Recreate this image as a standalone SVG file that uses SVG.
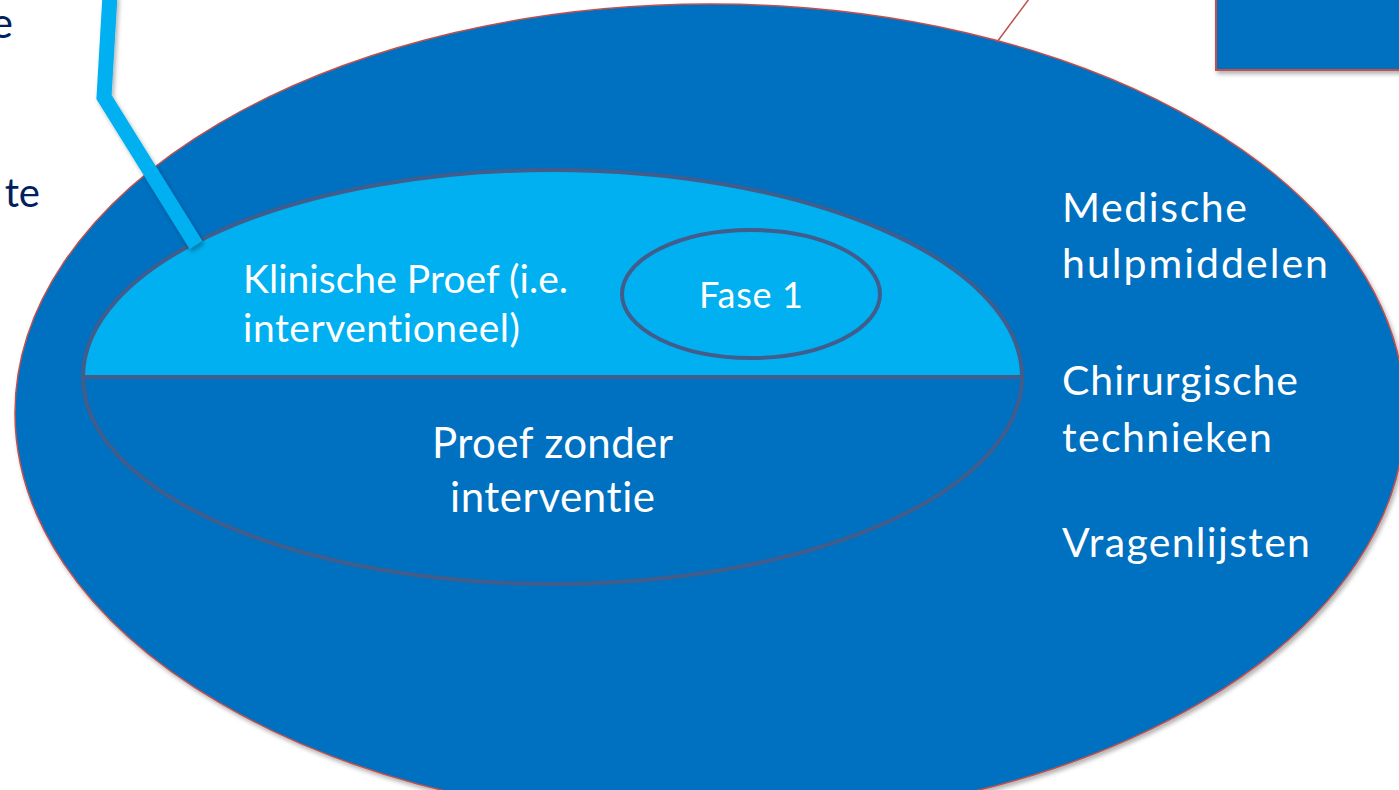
<svg xmlns="http://www.w3.org/2000/svg" width="1399" height="790" viewBox="0 0 1399 790">
  <defs>
    <filter id="shadow" x="-10%" y="-10%" width="120%" height="120%">
      <feDropShadow dx="2" dy="3" stdDeviation="2" flood-color="#000" flood-opacity="0.3"/>
    </filter>
    <style>
      text { font-variant-ligatures: none; }
      .txt { font-family: Lato, "Open Sans", "Liberation Sans", sans-serif; fill: #ffffff; }
      .side { font-family: Lato, "Open Sans", "Liberation Sans", sans-serif; fill: #002060; }
      .outline { stroke: #415D8C; stroke-width: 4; }
    </style>
  </defs>

  <!-- partial labels at the left margin -->
  <g id="left-labels">
    <text class="side" x="13" y="38" font-size="42" text-anchor="end">e</text>
    <text class="side" x="40" y="207" font-size="40" text-anchor="end">te</text>
  </g>

  <!-- outer domain ellipse -->
  <g id="outer">
    <ellipse cx="710" cy="413" rx="695" ry="409" fill="#0070C0" stroke="#C0504D" stroke-width="1.5" filter="url(#shadow)"/>
  </g>

  <!-- inner study ellipse: interventional (top) and non-interventional (bottom) -->
  <g id="inner">
    <path d="M 83 377 A 469.5 207 0 0 1 1022 377 Z" fill="#00B0F0"/>
    <ellipse class="outline" cx="552.5" cy="377" rx="469.5" ry="207" fill="none"/>
    <line class="outline" x1="83" y1="377" x2="1022" y2="377"/>
  </g>

  <g id="fase1">
    <ellipse class="outline" cx="751" cy="294" rx="129" ry="64" fill="#00B0F0"/>
    <text class="txt" x="751" y="308" font-size="36" text-anchor="middle" textLength="104">Fase 1</text>
  </g>

  <g id="klinisch">
    <text class="txt" x="243" y="293" font-size="39" textLength="325">Klinische Proef (i.e.</text>
    <text class="txt" x="243" y="342" font-size="39" textLength="277">interventioneel)</text>
  </g>

  <g id="zonder">
    <text class="txt" x="552.5" y="458" font-size="42" text-anchor="middle" textLength="241">Proef zonder</text>
    <text class="txt" x="552.5" y="512" font-size="42" text-anchor="middle" textLength="205">interventie</text>
  </g>

  <g id="other">
    <text class="txt" x="1062" y="222" font-size="41" textLength="185">Medische</text>
    <text class="txt" x="1062" y="278" font-size="41" textLength="266">hulpmiddelen</text>
    <text class="txt" x="1062" y="395" font-size="41" textLength="236">Chirurgische</text>
    <text class="txt" x="1062" y="452" font-size="41" textLength="210">technieken</text>
    <text class="txt" x="1062" y="557" font-size="41" textLength="248">Vragenlijsten</text>
  </g>

  <!-- box at top right -->
  <g id="box">
    <rect x="1216" y="-10" width="200" height="80" fill="#0070C0" stroke="#C0504D" stroke-width="2" filter="url(#shadow)"/>
  </g>

  <!-- connectors -->
  <g id="connectors">
    <polyline points="110,-5 104,97 196,245" fill="none" stroke="#00B0F0" stroke-width="15" stroke-linejoin="miter" filter="url(#shadow)"/>
    <line x1="997" y1="42" x2="1029" y2="-1" stroke="#C0504D" stroke-width="1.5"/>
  </g>
</svg>
